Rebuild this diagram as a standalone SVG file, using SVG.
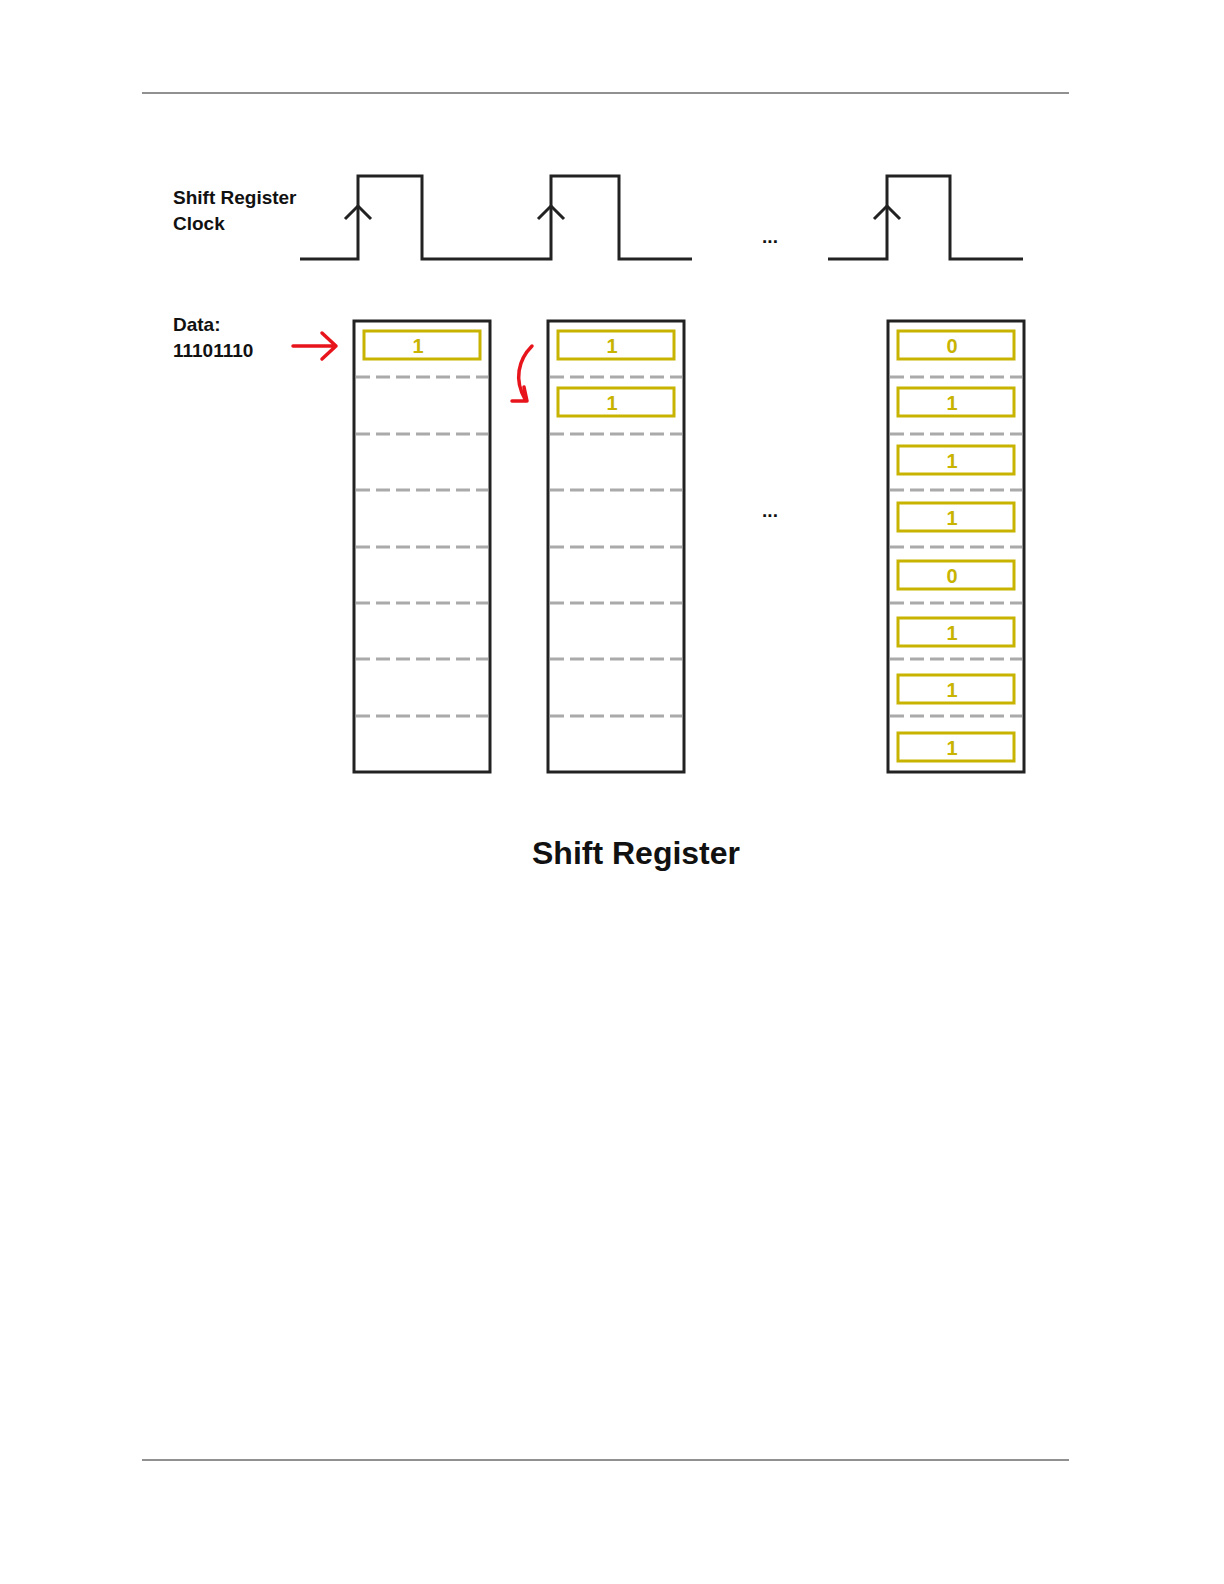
<svg xmlns="http://www.w3.org/2000/svg" width="1224" height="1584" viewBox="0 0 1224 1584">
<style>
.l{font-family:"Liberation Sans",Arial,sans-serif;font-weight:bold;fill:#111}
.w{fill:none;stroke:#222;stroke-width:3}
.reg{fill:#fff;stroke:#222;stroke-width:3}
.d{stroke:#aaa;stroke-width:3;stroke-dasharray:14,6}
.b{fill:none;stroke:#c8b400;stroke-width:3}
.t{font-family:"Liberation Sans",Arial,sans-serif;font-weight:bold;font-size:20px;fill:#c8b400;text-anchor:middle}
.r{fill:none;stroke:#e8141c;stroke-width:3.5;stroke-linecap:round;stroke-linejoin:round}
</style>
<rect width="1224" height="1584" fill="#fff"/>
<line x1="142" y1="93" x2="1069" y2="93" stroke="#222" stroke-width="1"/>
<line x1="142" y1="1460" x2="1069" y2="1460" stroke="#222" stroke-width="1"/>
<g id="labels">
<text class="l" x="173" y="204" font-size="19">Shift Register</text>
<text class="l" x="173" y="230" font-size="19">Clock</text>
<text class="l" x="173" y="331" font-size="19">Data:</text>
<text class="l" x="173" y="357" font-size="19">11101110</text>
<text class="l" x="770" y="243" font-size="19" text-anchor="middle">...</text>
<text class="l" x="770" y="517" font-size="19" text-anchor="middle">...</text>
<text class="l" x="636" y="864" font-size="32" text-anchor="middle">Shift Register</text>
</g>
<g id="clock">
<polyline class="w" points="300,259 358,259 358,176 422,176 422,259 551,259 551,176 619,176 619,259 692,259"/>
<polyline class="w" points="828,259 887,259 887,176 950,176 950,259 1023,259"/>
<polyline class="w" points="345,219 358,206 371,219"/>
<polyline class="w" points="538,219 551,206 564,219"/>
<polyline class="w" points="874,219 887,206 900,219"/>
</g>
<g id="reg1">
<rect class="reg" x="354" y="321" width="136" height="451"/>
<path class="d" d="M356 377H488M356 434H488M356 490H488M356 547H488M356 603H488M356 659H488M356 716H488"/>
<rect class="b" x="364" y="331" width="116" height="28"/><text class="t" x="418" y="353">1</text>
</g>
<g id="reg2">
<rect class="reg" x="548" y="321" width="136" height="451"/>
<path class="d" d="M550 377H682M550 434H682M550 490H682M550 547H682M550 603H682M550 659H682M550 716H682"/>
<rect class="b" x="558" y="331" width="116" height="28"/><text class="t" x="612" y="353">1</text>
<rect class="b" x="558" y="388" width="116" height="28"/><text class="t" x="612" y="410">1</text>
</g>
<g id="reg3">
<rect class="reg" x="888" y="321" width="136" height="451"/>
<path class="d" d="M890 377H1022M890 434H1022M890 490H1022M890 547H1022M890 603H1022M890 659H1022M890 716H1022"/>
<rect class="b" x="898" y="331" width="116" height="28"/><text class="t" x="952" y="353">0</text>
<rect class="b" x="898" y="388" width="116" height="28"/><text class="t" x="952" y="410">1</text>
<rect class="b" x="898" y="446" width="116" height="28"/><text class="t" x="952" y="468">1</text>
<rect class="b" x="898" y="503" width="116" height="28"/><text class="t" x="952" y="525">1</text>
<rect class="b" x="898" y="561" width="116" height="28"/><text class="t" x="952" y="583">0</text>
<rect class="b" x="898" y="618" width="116" height="28"/><text class="t" x="952" y="640">1</text>
<rect class="b" x="898" y="675" width="116" height="28"/><text class="t" x="952" y="697">1</text>
<rect class="b" x="898" y="733" width="116" height="28"/><text class="t" x="952" y="755">1</text>
</g>
<g id="connectors">
<path class="r" d="M293 346H336M322 333L336 346L322 359"/>
<path class="r" d="M532 346C518 360 514 380 525 399M512 401H527L524 387"/>
</g>
</svg>
